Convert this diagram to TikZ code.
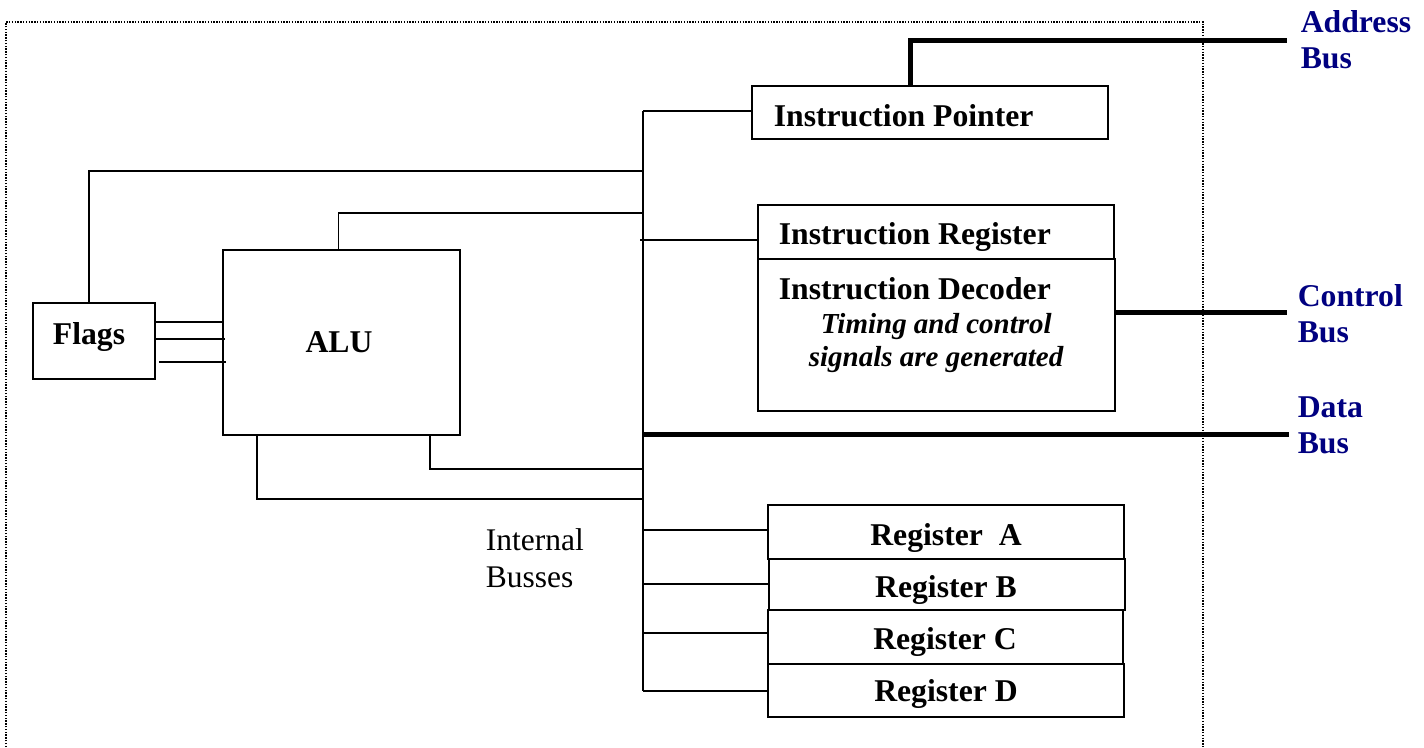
\documentclass[tikz,border=0pt]{standalone}
\usepackage{fontspec}
\setmainfont{Liberation Serif}
\definecolor{busblue}{RGB}{0,0,128}
\begin{document}
\begin{tikzpicture}[x=1pt,y=-1pt,
  line width=1.6pt,
  box/.style={draw=black,line width=1.8pt,anchor=north west,inner sep=0pt,minimum width=#1},
  lbl/.style={font=\fontsize{31.7}{36}\selectfont\bfseries,inner sep=0pt},
  ilbl/.style={font=\fontsize{29}{36}\selectfont\bfseries\itshape,inner sep=0pt},
  rlbl/.style={font=\fontsize{31.5}{36}\selectfont,inner sep=0pt},
  blbl/.style={font=\fontsize{31.7}{36}\selectfont\bfseries,text=busblue,inner sep=0pt,anchor=base west},
  bus/.style={line width=5pt},
  border/.style={line width=1.4pt,dash pattern=on 1.4pt off 1.4pt}]
\useasboundingbox (0,0) rectangle (1424,747);
% dotted outer border
\draw[border] (6,747) -- (6,22) -- (1203,22) -- (1203,747);
% boxes
\node[box=122pt,minimum height=76pt] (flags) at (32,302) {};
\node[box=237pt,minimum height=185pt] (alu) at (222,249) {};
\node[box=356pt,minimum height=53pt] (ip) at (751,85) {};
\node[box=356pt,minimum height=54pt] (ir) at (757,204) {};
\node[box=357pt,minimum height=152pt] (id) at (757,258) {};
\node[box=356pt,minimum height=54pt] (ra) at (767,504) {};
\node[box=356pt,minimum height=51pt] (rb) at (768,558) {};
\node[box=355pt,minimum height=54pt] (rc) at (767,609) {};
\node[box=356pt,minimum height=53pt] (rd) at (767,663) {};
% texts
\node[lbl,anchor=base] (flagst) at (89,344) {Flags};
\node[lbl,anchor=base] (alut) at (339,352) {ALU};
\node[lbl,anchor=base west] (ipt) at (773,126) {Instruction Pointer};
\node[lbl,anchor=base west] (irt) at (778,244) {Instruction Register};
\node[lbl,anchor=base west] (idt) at (778,299) {Instruction Decoder};
\node[ilbl,anchor=base west] (tm1) at (820,333) {Timing and control};
\node[ilbl,anchor=base west] (tm2) at (808,366) {signals are generated};
\node[lbl,anchor=base] (rat) at (946,545) {Register~~A};
\node[lbl,anchor=base] (rbt) at (946,597) {Register B};
\node[lbl,anchor=base] (rct) at (945,649) {Register C};
\node[lbl,anchor=base] (rdt) at (946,701) {Register D};
\node[rlbl,anchor=base west] (ib1) at (485,550) {Internal};
\node[rlbl,anchor=base west] (ib2) at (485,587) {Busses};
\node[blbl] (ab1) at (1300,32) {Address};
\node[blbl] (ab2) at (1300,68) {Bus};
\node[blbl] (cb1) at (1297,306) {Control};
\node[blbl] (cb2) at (1297,342) {Bus};
\node[blbl] (db1) at (1297,417) {Data};
\node[blbl] (db2) at (1297,453) {Bus};
% internal bus coordinates
\coordinate (bt) at (643,111);
\coordinate (bb) at (643,691);
\coordinate (jf) at (643,171);
\coordinate (ja) at (643,213);
\coordinate (ji) at (640,240);
\coordinate (jd) at (643,434);
\coordinate (j1) at (643,469);
\coordinate (j2) at (643,499);
\coordinate (aend) at (1287,40);
\coordinate (cend) at (1287,312);
\coordinate (dend) at (1289,434);
% internal bus
\draw (bt) -- (bb);
\draw (bt) -- (ip.west |- bt);
\draw ([xshift=-5pt]flags.north) |- (jf);
\draw ([xshift=-3pt]alu.north) |- (ja);
\draw (ji) -- (ir.west |- ji);
\draw ([xshift=-31pt]alu.south east) |- (j1);
\draw ([xshift=35pt]alu.south west) |- (j2);
\draw (bb) -- (rd.west |- bb);
\draw (643,530) coordinate (jra) -- (ra.west |- jra);
\draw (643,584) coordinate (jrb) -- (rb.west |- jrb);
\draw (643,633) coordinate (jrc) -- (rc.west |- jrc);
% flags to alu
\draw (flags.east |- 0,322) coordinate (f1) -- (alu.west |- f1);
\draw (flags.east |- 0,339) coordinate (f2) -- ([xshift=3pt]alu.west |- f2);
\draw ([xshift=3pt]flags.east |- 0,362) coordinate (f3) -- ([xshift=4pt]alu.west |- f3);
% system buses
\draw[bus,line cap=butt] (910,85) |- (aend);
\draw[bus] (id.east |- cend) -- (cend);
\draw[bus] (jd) -- (dend);
\end{tikzpicture}
\end{document}
